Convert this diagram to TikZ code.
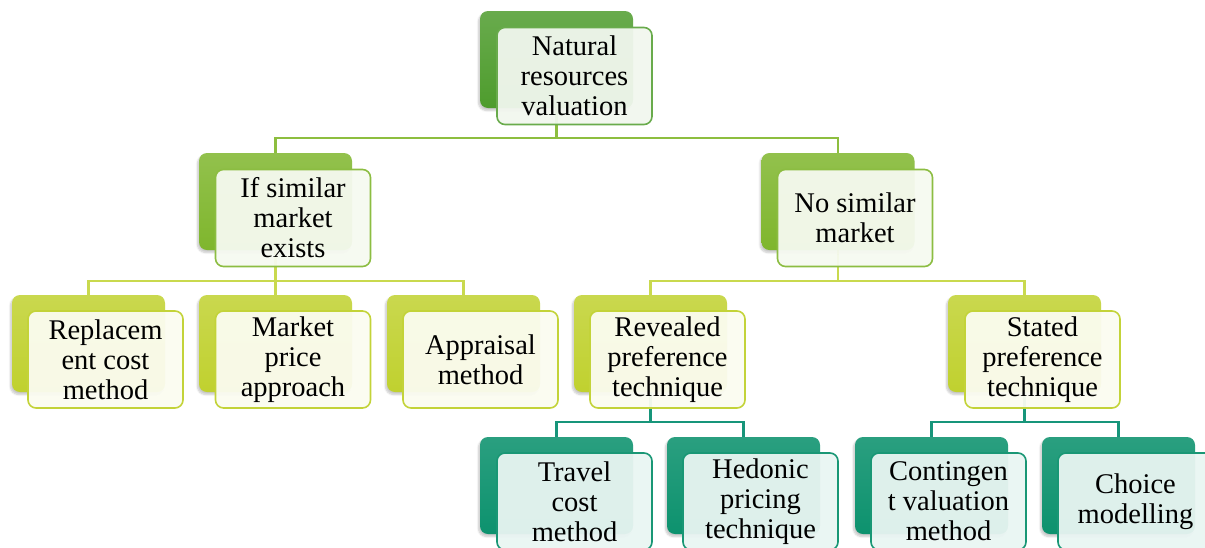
\documentclass[tikz,border=0pt]{standalone}
\usepackage{fontspec}
\setmainfont{Liberation Serif}
\usetikzlibrary{shadows.blur}

\definecolor{lvA}{HTML}{4E9C2D}
\definecolor{lvB}{HTML}{7FB62D}
\definecolor{lvC}{HTML}{C0D12F}
\definecolor{lvD}{HTML}{0D926E}
\definecolor{linkBcol}{HTML}{8DBE3F}
\definecolor{linkCcol}{HTML}{C9D94E}
\definecolor{linkDcol}{HTML}{17957A}

\pgfdeclarelayer{bg}
\pgfsetlayers{bg,main}

\tikzset{
  backbox/.style={rounded corners=8pt, minimum width=153pt, minimum height=97pt,
    inner sep=0pt,
    blur shadow={shadow xshift=-1.5pt, shadow yshift=-2.5pt, shadow opacity=22, shadow blur steps=6}},
  frontbox/.style={rounded corners=8pt, minimum width=155pt, minimum height=97pt,
    inner sep=0pt, line width=1.6pt, align=center,
    font=\fontsize{28.5}{30}\selectfont, fill opacity=0.95, text opacity=1},
  backA/.style={backbox, top color=lvA!85!white, bottom color=lvA},
  backB/.style={backbox, top color=lvB!85!white, bottom color=lvB},
  backC/.style={backbox, top color=lvC!85!white, bottom color=lvC},
  backD/.style={backbox, top color=lvD!88!white, bottom color=lvD},
  frontA/.style={frontbox, draw=lvA!85!white, fill=lvA!8!white},
  frontB/.style={frontbox, draw=lvB!90!white, fill=lvB!7!white},
  frontC/.style={frontbox, draw=lvC!95!white, fill=lvC!7!white},
  frontD/.style={frontbox, draw=lvD!95!white, fill=lvD!9!white},
  link/.style={line width=2.6pt},
  linkB/.style={link, draw=linkBcol},
  linkC/.style={link, draw=linkCcol},
  linkD/.style={link, draw=linkDcol},
}

\begin{document}
\begin{tikzpicture}[x=1pt, y=-1pt]
  \useasboundingbox (0,0) rectangle (1205,547);

  % root
  \node[backA] (nrvB) at (556.5,59.5) {};
  \node[frontA] (nrv) at (574.5,76) {Natural\\resources\\valuation};

  % second level
  \node[backB] (simB) at (275.5,201.5) {};
  \node[frontB] (sim) at (293,218) {If similar\\market\\exists};
  \node[backB] (nosimB) at (838,201.5) {};
  \node[frontB] (nosim) at (855,218) {No similar\\market};

  % third level
  \node[backC] (repB) at (88.5,343.5) {};
  \node[frontC] (rep) at (105.5,359.5) {Replacem\\ent cost\\method};
  \node[backC] (mktB) at (275.5,343.5) {};
  \node[frontC] (mkt) at (293,359.5) {Market\\price\\approach};
  \node[backC] (appB) at (463.5,343.5) {};
  \node[frontC] (app) at (480.5,359.5) {Appraisal\\method};
  \node[backC] (revB) at (650.5,343.5) {};
  \node[frontC] (rev) at (667.5,359.5) {Revealed\\preference\\technique};
  \node[backC] (staB) at (1024.5,343.5) {};
  \node[frontC] (sta) at (1042.5,359.5) {Stated\\preference\\technique};

  % fourth level
  \node[backD] (trvB) at (556.5,485.5) {};
  \node[frontD] (trv) at (574.5,501.5) {Travel\\cost\\method};
  \node[backD] (hedB) at (743.5,485.5) {};
  \node[frontD] (hed) at (760.5,501.5) {Hedonic\\pricing\\technique};
  \node[backD] (conB) at (931.5,485.5) {};
  \node[frontD] (con) at (948.5,501.5) {Contingen\\t valuation\\method};
  \node[backD] (choB) at (1118.5,485.5) {};
  \node[frontD] (cho) at (1135.5,501.5) {Choice\\modelling};

  % elbow connectors behind the boxes
  \coordinate (busA) at (0,138);
  \coordinate (busB) at (0,281);
  \coordinate (busC) at (0,422);
  \begin{pgfonlayer}{bg}
    \draw[linkB] (nrvB.south) -- (nrvB.south |- busA) -| (simB.north);
    \draw[linkB] (nrvB.south |- busA) -| (nosimB.north);

    \draw[linkC] (simB.south) -- (simB.south |- busB) -| (repB.north);
    \draw[linkC] (simB.south |- busB) -| (appB.north);
    \draw[linkC] (simB.south |- busB) -- (mktB.north);
    \draw[linkC] (nosimB.south) -- (nosimB.south |- busB) -| (revB.north);
    \draw[linkC] (nosimB.south |- busB) -| (staB.north);

    \draw[linkD] (revB.south) -- (revB.south |- busC) -| (trvB.north);
    \draw[linkD] (revB.south |- busC) -| (hedB.north);
    \draw[linkD] (staB.south) -- (staB.south |- busC) -| (conB.north);
    \draw[linkD] (staB.south |- busC) -| (choB.north);
  \end{pgfonlayer}
\end{tikzpicture}
\end{document}
